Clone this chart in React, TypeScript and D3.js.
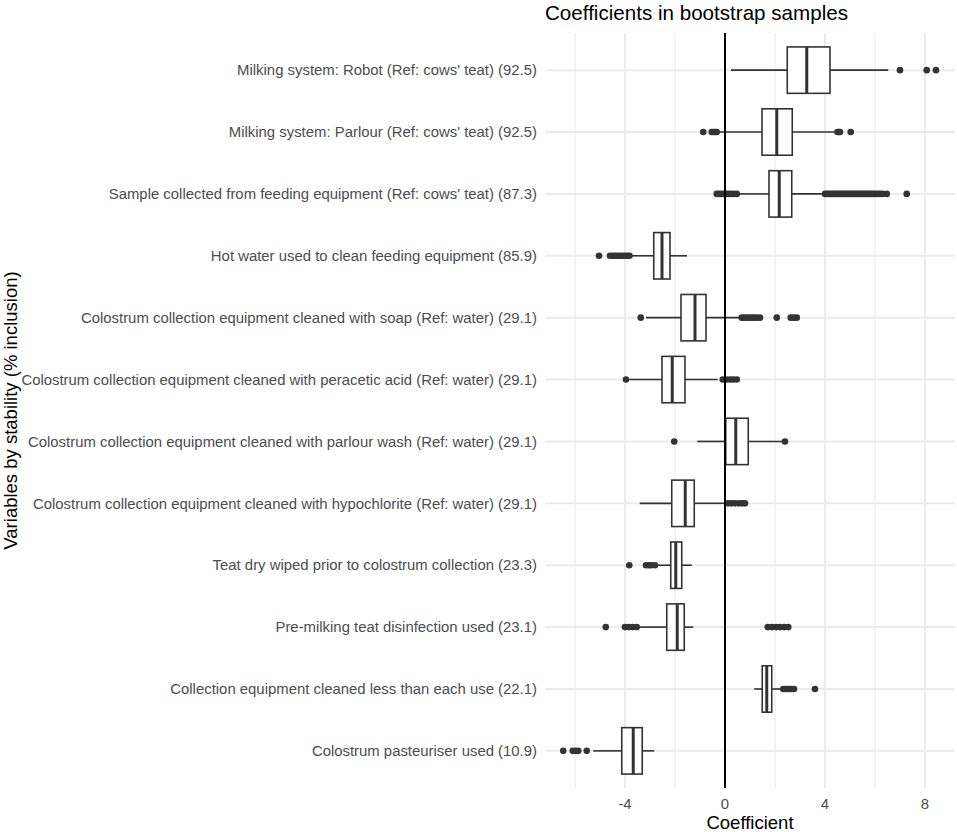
import { useEffect, useRef } from 'react';
import * as d3 from 'd3';

const categories = [
  "Milking system: Robot (Ref: cows' teat) (92.5)",
  "Milking system: Parlour (Ref: cows' teat) (92.5)",
  "Sample collected from feeding equipment (Ref: cows' teat) (87.3)",
  'Hot water used to clean feeding equipment (85.9)',
  'Colostrum collection equipment cleaned with soap (Ref: water) (29.1)',
  'Colostrum collection equipment cleaned with peracetic acid (Ref: water) (29.1)',
  'Colostrum collection equipment cleaned with parlour wash (Ref: water) (29.1)',
  'Colostrum collection equipment cleaned with hypochlorite (Ref: water) (29.1)',
  'Teat dry wiped prior to colostrum collection (23.3)',
  'Pre-milking teat disinfection used (23.1)',
  'Collection equipment cleaned less than each use (22.1)',
  'Colostrum pasteuriser used (10.9)',
];

const whiskerLow = [0.24, -0.28, 0.53, -3.77, -3.16, -3.83, -1.11, -3.41, -2.73, -3.47, 1.17, -5.27];
const q1 = [2.49, 1.48, 1.76, -2.85, -1.76, -2.52, 0.03, -2.13, -2.17, -2.33, 1.49, -4.13];
const median = [3.27, 2.07, 2.17, -2.52, -1.2, -2.11, 0.43, -1.59, -1.97, -1.91, 1.67, -3.67];
const q3 = [4.2, 2.69, 2.67, -2.2, -0.76, -1.6, 0.93, -1.23, -1.73, -1.63, 1.87, -3.31];
const whiskerHigh = [6.53, 4.47, 3.93, -1.52, 0.6, -0.29, 2.35, 0, -1.33, -1.27, 2.31, -2.83];

const outliers = [
  [7.0, 8.07, 8.44],
  [-0.87, -0.53, -0.45, -0.38, -0.33, 4.5, 4.56, 4.6, 5.03],
  [-0.33, -0.25, -0.15, -0.05, 0.05, 0.15, 0.25, 0.35, 0.47,
    4.0, 4.08, 4.16, 4.24, 4.32, 4.4, 4.48, 4.56, 4.64, 4.72, 4.8, 4.88, 4.96, 5.04,
    5.12, 5.2, 5.28, 5.36, 5.44, 5.52, 5.6, 5.68, 5.76, 5.84, 5.92, 6.0, 6.1, 6.2, 6.3, 6.47, 7.27],
  [-5.04, -4.6, -4.5, -4.4, -4.3, -4.2, -4.1, -4.0, -3.9, -3.82],
  [-3.37, 0.67, 0.77, 0.87, 0.97, 1.07, 1.17, 1.27, 1.4, 2.07, 2.63, 2.75, 2.87],
  [-3.96, -0.09, 0.05, 0.2, 0.33, 0.47],
  [-2.03, 2.4],
  [0.12, 0.25, 0.4, 0.55, 0.68, 0.8],
  [-3.83, -3.16, -3.05, -2.95, -2.8],
  [-4.77, -4.0, -3.85, -3.7, -3.53, 1.71, 1.88, 2.05, 2.2, 2.37, 2.53],
  [2.33, 2.42, 2.5, 2.58, 2.67, 2.76, 3.6],
  [-6.47, -6.09, -5.98, -5.87, -5.53],
];

const majorTicks = [-4, 0, 4, 8];
const minorTicks = [-6, -2, 2, 6];

const W = 957;
const H = 832;

export default function App() {
  const ref = useRef<SVGSVGElement | null>(null);

  useEffect(() => {
    document.body.style.margin = '0';
    const svg = d3.select(ref.current);
    svg.selectAll('*').remove();

    const panel = { left: 545, right: 955, top: 33, bottom: 788 };
    const x = d3.scaleLinear().domain([-7.2, 9.2]).range([panel.left, panel.right]);
    const y = d3
      .scalePoint<string>()
      .domain(categories)
      .range([panel.top, panel.bottom])
      .padding(0.6);
    const boxH = y.step() * 0.75;
    const font = '"Liberation Sans", Arial, sans-serif';

    // grid
    const grid = svg.append('g');
    grid
      .selectAll('line.minor')
      .data(minorTicks)
      .enter()
      .append('line')
      .attr('x1', (d) => x(d))
      .attr('x2', (d) => x(d))
      .attr('y1', panel.top)
      .attr('y2', panel.bottom)
      .attr('stroke', '#ebebeb')
      .attr('stroke-width', 1.2);
    grid
      .selectAll('line.major')
      .data(majorTicks)
      .enter()
      .append('line')
      .attr('x1', (d) => x(d))
      .attr('x2', (d) => x(d))
      .attr('y1', panel.top)
      .attr('y2', panel.bottom)
      .attr('stroke', '#ebebeb')
      .attr('stroke-width', 2);
    grid
      .selectAll('line.h')
      .data(categories)
      .enter()
      .append('line')
      .attr('x1', panel.left)
      .attr('x2', panel.right)
      .attr('y1', (d) => y(d)!)
      .attr('y2', (d) => y(d)!)
      .attr('stroke', '#ebebeb')
      .attr('stroke-width', 2);

    // boxplots
    const ink = '#333333';
    const rows = svg
      .selectAll('g.row')
      .data(categories)
      .enter()
      .append('g')
      .attr('transform', (d) => `translate(0,${y(d)})`);

    rows
      .append('line')
      .attr('x1', (_, i) => x(whiskerLow[i]))
      .attr('x2', (_, i) => x(q1[i]))
      .attr('stroke', ink)
      .attr('stroke-width', 1.6);
    rows
      .append('line')
      .attr('x1', (_, i) => x(q3[i]))
      .attr('x2', (_, i) => x(whiskerHigh[i]))
      .attr('stroke', ink)
      .attr('stroke-width', 1.6);
    rows
      .append('rect')
      .attr('x', (_, i) => x(q1[i]))
      .attr('width', (_, i) => x(q3[i]) - x(q1[i]))
      .attr('y', -boxH / 2)
      .attr('height', boxH)
      .attr('fill', 'white')
      .attr('stroke', ink)
      .attr('stroke-width', 1.6);
    rows
      .append('line')
      .attr('x1', (_, i) => x(median[i]))
      .attr('x2', (_, i) => x(median[i]))
      .attr('y1', -boxH / 2)
      .attr('y2', boxH / 2)
      .attr('stroke', ink)
      .attr('stroke-width', 3);
    rows
      .selectAll('circle')
      .data((_, i) => outliers[i])
      .enter()
      .append('circle')
      .attr('cx', (d) => x(d))
      .attr('cy', 0)
      .attr('r', 3.3)
      .attr('fill', ink);

    // zero line
    svg
      .append('line')
      .attr('x1', x(0))
      .attr('x2', x(0))
      .attr('y1', panel.top)
      .attr('y2', panel.bottom)
      .attr('stroke', 'black')
      .attr('stroke-width', 2);

    // y labels
    svg
      .append('g')
      .selectAll('text')
      .data(categories)
      .enter()
      .append('text')
      .attr('x', panel.left - 8)
      .attr('y', (d) => y(d)!)
      .attr('dy', '0.35em')
      .attr('text-anchor', 'end')
      .style('font-family', font)
      .style('font-size', '14.9px')
      .style('fill', '#4d4d4d')
      .text((d) => d);

    // x tick labels
    svg
      .append('g')
      .selectAll('text')
      .data(majorTicks)
      .enter()
      .append('text')
      .attr('x', (d) => x(d))
      .attr('y', 809)
      .attr('text-anchor', 'middle')
      .style('font-family', font)
      .style('font-size', '14.9px')
      .style('fill', '#4d4d4d')
      .text((d) => d);

    svg
      .append('text')
      .attr('x', (panel.left + panel.right) / 2)
      .attr('y', 829)
      .attr('text-anchor', 'middle')
      .style('font-family', font)
      .style('font-size', '18.5px')
      .style('fill', 'black')
      .text('Coefficient');

    svg
      .append('text')
      .attr('transform', `translate(17,${(panel.top + panel.bottom) / 2}) rotate(-90)`)
      .attr('text-anchor', 'middle')
      .style('font-family', font)
      .style('font-size', '18.5px')
      .style('fill', 'black')
      .text('Variables by stability (% inclusion)');

    svg
      .append('text')
      .attr('x', panel.left)
      .attr('y', 20)
      .style('font-family', font)
      .style('font-size', '20.6px')
      .style('fill', 'black')
      .text('Coefficients in bootstrap samples');
  }, []);

  return <svg ref={ref} width={W} height={H} style={{ display: 'block', background: 'white' }} />;
}
